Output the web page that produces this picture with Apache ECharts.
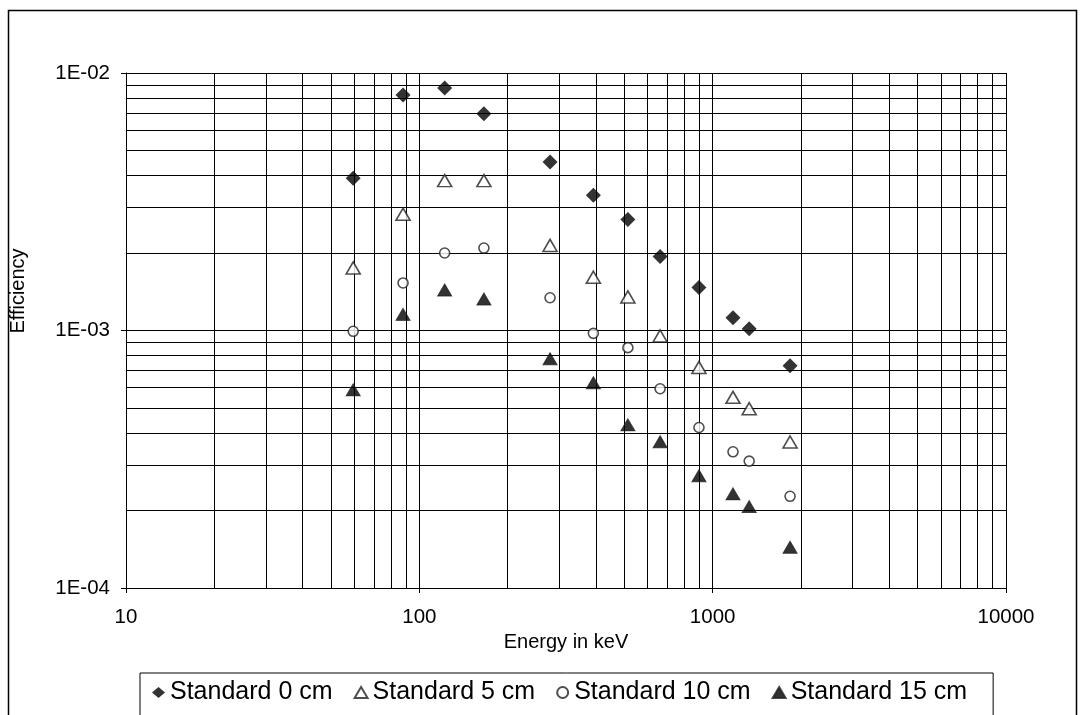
<!DOCTYPE html>
<html>
<head>
<meta charset="utf-8">
<script src="https://cdn.jsdelivr.net/npm/echarts@6/dist/echarts.min.js"></script>
<style>
  html, body { margin: 0; padding: 0; background: #fff; }
  #chart { width: 1085px; height: 715px; }
</style>
</head>
<body>
<div id="chart"></div>
<script>
// gamma energies (keV)
const energies = [59.5, 88, 122, 166, 279, 392, 514, 662, 898, 1173, 1332, 1836]

// efficiency per source distance
const eff0cm = [3.90e-3, 8.21e-3, 8.74e-3, 6.95e-3, 4.51e-3, 3.35e-3, 2.70e-3, 1.94e-3, 1.47e-3, 1.12e-3, 1.016e-3, 7.30e-4]
const eff5cm = [1.75e-3, 2.83e-3, 3.82e-3, 3.82e-3, 2.14e-3, 1.61e-3, 1.35e-3, 9.52e-4, 7.19e-4, 5.50e-4, 4.97e-4, 3.69e-4]
const eff10cm = [9.93e-4, 1.53e-3, 2.00e-3, 2.09e-3, 1.34e-3, 9.75e-4, 8.58e-4, 5.94e-4, 4.20e-4, 3.38e-4, 3.11e-4, 2.27e-4]
const eff15cm = [5.88e-4, 1.155e-3, 1.437e-3, 1.326e-3, 7.77e-4, 6.27e-4, 4.30e-4, 3.70e-4, 2.73e-4, 2.32e-4, 2.07e-4, 1.44e-4]

const seriesNames = ['Standard 0 cm', 'Standard 5 cm', 'Standard 10 cm', 'Standard 15 cm']

// axis range and minor log grid lines (2..9 of each decade)
const xRange = [10, 10000]
const yRange = [1e-4, 1e-2]
const xMinor = [20, 30, 40, 50, 60, 70, 80, 90, 200, 300, 400, 500, 600, 700, 800, 900, 2000, 3000, 4000, 5000, 6000, 7000, 8000, 9000]
const yMinor = [2e-4, 3e-4, 4e-4, 5e-4, 6e-4, 7e-4, 8e-4, 9e-4, 2e-3, 3e-3, 4e-3, 5e-3, 6e-3, 7e-3, 8e-3, 9e-3]

const font = "'Liberation Sans', Arial, sans-serif"

const pairs = arr => energies.map((e, i) => [e, arr[i]])

const chart = echarts.init(document.getElementById('chart'), null, { renderer: 'canvas' })

const expLabel = v => {
  const e = Math.round(Math.log10(v))
  return '1E' + (e < 0 ? '-' : '+') + String(Math.abs(e)).padStart(2, '0')
}

const gridLines = xMinor
  .map(v => [{ coord: [v, yRange[0]] }, { coord: [v, yRange[1]] }])
  .concat(yMinor.map(v => [{ coord: [xRange[0], v] }, { coord: [xRange[1], v] }]))

const option = {
  animation: false,
  backgroundColor: '#fff',
  textStyle: { fontFamily: font, color: '#000' },
  graphic: [
    {
      type: 'rect',
      shape: { x: 8.5, y: 10.5, width: 1068, height: 740 },
      style: { fill: null, stroke: '#000', lineWidth: 1.5 },
      silent: true,
    },
  ],
  grid: { left: 124, top: 73, right: 79, bottom: 127, containLabel: false },
  legend: {
    data: seriesNames,
    left: 140,
    top: 673,
    orient: 'horizontal',
    itemWidth: 13,
    itemHeight: 11,
    itemGap: 21,
    padding: [7, 26, 14, 12],
    borderColor: '#000',
    borderWidth: 1,
    textStyle: { fontFamily: font, fontSize: 25, color: '#000' },
  },
  xAxis: {
    type: 'log',
    logBase: 10,
    min: xRange[0],
    max: xRange[1],
    name: 'Energy in keV',
    nameLocation: 'middle',
    nameGap: 35,
    nameTextStyle: { fontFamily: font, fontSize: 20, color: '#000' },
    axisLine: { lineStyle: { color: '#000', width: 1 } },
    axisTick: { show: true, length: 5, lineStyle: { color: '#000' } },
    axisLabel: { fontFamily: font, fontSize: 20.5, color: '#000', margin: 19, formatter: v => String(Math.round(v)) },
    splitLine: { show: true, lineStyle: { color: '#000', width: 1 } },
  },
  yAxis: {
    type: 'log',
    logBase: 10,
    min: yRange[0],
    max: yRange[1],
    name: 'Efficiency',
    nameLocation: 'middle',
    nameRotate: 90,
    nameGap: 98,
    nameTextStyle: { fontFamily: font, fontSize: 20, color: '#000', padding: [0, 0, 0, 79] },
    axisLine: { show: true, lineStyle: { color: '#000', width: 1 } },
    axisTick: { show: true, length: 5, lineStyle: { color: '#000' } },
    axisLabel: { fontFamily: font, fontSize: 20.5, color: '#000', margin: 16, formatter: expLabel },
    splitLine: { show: true, lineStyle: { color: '#000', width: 1 } },
  },
  series: [
    {
      // minor grid lines
      type: 'scatter',
      data: [],
      silent: true,
      z: 1,
      markLine: {
        silent: true,
        symbol: ['none', 'none'],
        label: { show: false },
        lineStyle: { color: '#000', width: 1, type: 'solid' },
        data: gridLines,
      },
    },
    {
      name: seriesNames[0],
      type: 'scatter',
      symbol: 'diamond',
      symbolSize: [15, 15],
      itemStyle: { color: '#000' },
      z: 5,
      data: pairs(eff0cm),
    },
    {
      name: seriesNames[1],
      type: 'scatter',
      symbol: 'triangle',
      symbolSize: [14, 12],
      itemStyle: { color: '#fff', borderColor: '#222', borderWidth: 1.6 },
      z: 5,
      data: pairs(eff5cm),
    },
    {
      name: seriesNames[2],
      type: 'scatter',
      symbol: 'circle',
      symbolSize: 10,
      itemStyle: { color: '#fff', borderColor: '#222', borderWidth: 1.6 },
      z: 5,
      data: pairs(eff10cm),
    },
    {
      name: seriesNames[3],
      type: 'scatter',
      symbol: 'triangle',
      symbolSize: [14, 12],
      itemStyle: { color: '#000', borderColor: '#222', borderWidth: 1 },
      z: 5,
      data: pairs(eff15cm),
    },
  ],
}

chart.setOption(option)
</script>
</body>
</html>
